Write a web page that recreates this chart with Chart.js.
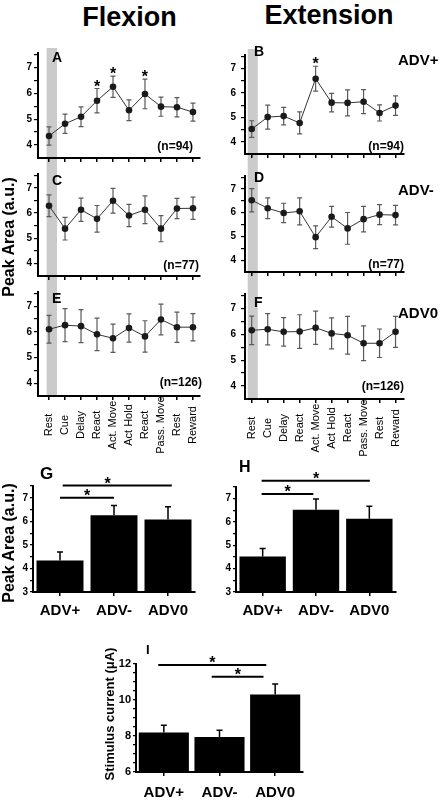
<!DOCTYPE html>
<html>
<head>
<meta charset="utf-8">
<title>Peak area by task phase</title>
<script src="https://cdn.jsdelivr.net/npm/chart.js@4.4.1/dist/chart.umd.min.js"></script>
<style>
  html, body { margin: 0; padding: 0; background: #fff; }
  #fig { position: relative; width: 443px; height: 801px; overflow: hidden; font-family: 'Liberation Sans', Arial, sans-serif; color: #000; }
  #fig canvas { position: absolute; }
  .lbl { position: absolute; z-index: 2; font-weight: bold; line-height: 1; white-space: nowrap; }
  .ctr { transform: translateX(-50%); }
  .rgt { transform: translateX(-100%); }
  .rot { transform: translate(-50%, -50%) rotate(-90deg); }
</style>
</head>
<body>
<div id="fig">
  <div class="lbl ctr" style="left:129.5px; top:4px; font-size:27px;">Flexion</div>
  <div class="lbl ctr" style="left:329px; top:2px; font-size:27px;">Extension</div>

  <div class="lbl" style="left:52px; top:50px; font-size:14px;">A</div>
  <div class="lbl" style="left:254px; top:44px; font-size:14px;">B</div>
  <div class="lbl" style="left:52px; top:173px; font-size:14px;">C</div>
  <div class="lbl" style="left:254px; top:170px; font-size:14px;">D</div>
  <div class="lbl" style="left:52px; top:291px; font-size:14px;">E</div>
  <div class="lbl" style="left:254px; top:295px; font-size:14px;">F</div>
  <div class="lbl" style="left:40px; top:465px; font-size:17px;">G</div>
  <div class="lbl" style="left:239px; top:459px; font-size:16px;">H</div>
  <div class="lbl" style="left:146px; top:643px; font-size:13px;">I</div>

  <div class="lbl rgt" style="left:193px; top:140px; font-size:12px;">(n=94)</div>
  <div class="lbl rgt" style="left:404px; top:140px; font-size:12px;">(n=94)</div>
  <div class="lbl rgt" style="left:199px; top:259px; font-size:12px;">(n=77)</div>
  <div class="lbl rgt" style="left:404px; top:258px; font-size:12px;">(n=77)</div>
  <div class="lbl rgt" style="left:202px; top:376px; font-size:12px;">(n=126)</div>
  <div class="lbl rgt" style="left:404px; top:380px; font-size:12px;">(n=126)</div>

  <div class="lbl" style="left:398px; top:52px; font-size:15px;">ADV+</div>
  <div class="lbl" style="left:398px; top:182px; font-size:15px;">ADV-</div>
  <div class="lbl" style="left:398px; top:305px; font-size:15px;">ADV0</div>

  <div class="lbl rot" style="left:9px; top:237px; font-size:16px;">Peak Area (a.u.)</div>
  <div class="lbl rot" style="left:9px; top:543px; font-size:16px;">Peak Area (a.u.)</div>
  <div class="lbl rot" style="left:109px; top:714px; font-size:13px;">Stimulus current (μA)</div>
</div>

<script>
// task phases (x axis of A-F)
const phaseLabels = ['Rest', 'Cue', 'Delay', 'React', 'Act. Move', 'Act Hold', 'React', 'Pass. Move', 'Rest', 'Reward'];
const yTicksLine = [4, 4.5, 5, 5.5, 6, 6.5, 7, 7.5];

// flexion
const flexAdvPlus = [4.35, 4.82, 5.09, 5.71, 6.25, 5.34, 5.97, 5.48, 5.46, 5.27];
const flexAdvPlusErr = [0.35, 0.37, 0.38, 0.47, 0.41, 0.40, 0.57, 0.37, 0.37, 0.35];
const flexAdvMinus = [6.29, 5.38, 6.13, 5.77, 6.49, 5.90, 6.13, 5.38, 6.18, 6.19];
const flexAdvMinusErr = [0.43, 0.45, 0.46, 0.53, 0.49, 0.44, 0.55, 0.52, 0.40, 0.44];
const flexAdvZero = [6.10, 6.26, 6.22, 5.90, 5.75, 6.15, 5.82, 6.48, 6.18, 6.18];
const flexAdvZeroErr = [0.54, 0.64, 0.64, 0.63, 0.55, 0.55, 0.61, 0.60, 0.59, 0.53];

// extension
const extAdvPlus = [4.52, 5.01, 5.05, 4.77, 6.58, 5.60, 5.59, 5.64, 5.18, 5.48];
const extAdvPlusErr = [0.34, 0.49, 0.36, 0.45, 0.51, 0.38, 0.53, 0.49, 0.33, 0.40];
const extAdvMinus = [6.53, 6.19, 5.99, 6.06, 4.97, 5.83, 5.34, 5.73, 5.92, 5.90];
const extAdvMinusErr = [0.49, 0.44, 0.41, 0.57, 0.48, 0.44, 0.67, 0.54, 0.42, 0.41];
const extAdvZero = [6.15, 6.19, 6.09, 6.10, 6.25, 6.03, 5.96, 5.65, 5.65, 6.09];
const extAdvZeroErr = [0.55, 0.60, 0.55, 0.65, 0.64, 0.60, 0.73, 0.67, 0.55, 0.60];

// phases marked significant (*)
const starsFlexPlus = [3, 4, 6];
const starsExtPlus = [4];

// rest values per group (G, H) and stimulus current (I)
const groups = ['ADV+', 'ADV-', 'ADV0'];
const restFlex = [4.34, 6.26, 6.08];
const restFlexErr = [0.36, 0.41, 0.54];
const restExt = [4.52, 6.53, 6.14];
const restExtErr = [0.34, 0.46, 0.54];
const stimCurrent = [8.20, 7.95, 10.31];
const stimCurrentErr = [0.40, 0.37, 0.58];

// significance brackets: from, to, level, star position
const sigFlex = [[0, 1, 7.0, 0.5], [0.05, 2.07, 7.52, 0.88]];
const sigExt = [[-0.02, 0.95, 7.2, 0.47], [-0.02, 2.01, 7.77, 1.0]];
const sigStim = [[-0.1, 1.84, 11.94, 0.87], [0.86, 1.79, 11.29, 1.33]];

Chart.defaults.font.family = "'Liberation Sans', Arial, sans-serif";
Chart.defaults.color = '#000';

const fig = document.getElementById('fig');

function makeCanvas(box) {
  const c = document.createElement('canvas');
  c.width = box[2];
  c.height = box[3];
  c.style.left = box[0] + 'px';
  c.style.top = box[1] + 'px';
  c.style.width = box[2] + 'px';
  c.style.height = box[3] + 'px';
  fig.appendChild(c);
  return c;
}

function drawStar(ctx, x, y) {
  ctx.save();
  ctx.font = "bold 16px 'Liberation Sans', Arial, sans-serif";
  ctx.fillStyle = '#000';
  ctx.textAlign = 'center';
  ctx.textBaseline = 'alphabetic';
  ctx.fillText('*', x, y + 3);
  ctx.restore();
}

function restBand(range, fromTop, toBottom) {
  return {
    id: 'restBand',
    beforeDraw(chart) {
      const { ctx, chartArea, scales } = chart;
      const x0 = scales.x.getPixelForValue(range[0]);
      const x1 = scales.x.getPixelForValue(range[1]);
      const y0 = fromTop == null ? 0 : chartArea.top - fromTop;
      const y1 = toBottom ? chart.height : chartArea.bottom;
      ctx.save();
      ctx.fillStyle = '#cbcbcb';
      ctx.fillRect(x0, y0, x1 - x0, y1 - y0);
      ctx.restore();
    }
  };
}

const lineErrors = {
  id: 'lineErrors',
  beforeDatasetsDraw(chart) {
    const ds = chart.data.datasets[0];
    const y = chart.scales.y;
    const ctx = chart.ctx;
    ctx.save();
    ctx.strokeStyle = '#5a5a5a';
    ctx.lineWidth = 1.2;
    chart.getDatasetMeta(0).data.forEach((pt, i) => {
      const v = ds.data[i].y, e = ds.err[i];
      const top = y.getPixelForValue(v + e), bot = y.getPixelForValue(v - e);
      ctx.beginPath();
      ctx.moveTo(pt.x, top); ctx.lineTo(pt.x, bot);
      ctx.moveTo(pt.x - 2.5, top); ctx.lineTo(pt.x + 2.5, top);
      ctx.moveTo(pt.x - 2.5, bot); ctx.lineTo(pt.x + 2.5, bot);
      ctx.stroke();
    });
    ctx.restore();
  },
  afterDatasetsDraw(chart) {
    const ds = chart.data.datasets[0];
    const y = chart.scales.y;
    const pts = chart.getDatasetMeta(0).data;
    ds.stars.forEach(i => {
      drawStar(chart.ctx, pts[i].x, y.getPixelForValue(ds.data[i].y + ds.err[i]));
    });
  }
};

function phaseTicks(centerY) {
  return {
    id: 'phaseTicks',
    afterDraw(chart) {
      const ctx = chart.ctx, x = chart.scales.x;
      ctx.save();
      ctx.font = "11px 'Liberation Sans', Arial, sans-serif";
      ctx.fillStyle = '#000';
      ctx.textAlign = 'center';
      ctx.textBaseline = 'middle';
      phaseLabels.forEach((t, i) => {
        ctx.save();
        ctx.translate(x.getPixelForValue(i), centerY);
        ctx.rotate(-Math.PI / 2);
        ctx.fillText(t, 0, 0);
        ctx.restore();
      });
      ctx.restore();
    }
  };
}

function lineChart(box, area, xRange, values, errs, opt) {
  const plugins = [restBand(opt.band, opt.bandTop, opt.bandBottom), lineErrors];
  if (opt.labelY != null) plugins.push(phaseTicks(opt.labelY - box[1]));
  return new Chart(makeCanvas(box), {
    type: 'line',
    data: {
      datasets: [{
        data: values.map((v, i) => ({ x: i, y: v })),
        err: errs,
        stars: opt.stars || [],
        borderColor: '#333',
        borderWidth: 1,
        pointRadius: 3.3,
        pointBackgroundColor: '#1a1a1a',
        pointBorderWidth: 0,
        tension: 0
      }]
    },
    options: {
      responsive: false,
      animation: false,
      devicePixelRatio: 1,
      layout: { padding: { top: area[1] - box[1], right: box[0] + box[2] - area[2], bottom: 0, left: 0 } },
      plugins: { legend: { display: false }, tooltip: { enabled: false } },
      scales: {
        x: {
          type: 'linear',
          min: xRange[0],
          max: xRange[1],
          afterBuildTicks: s => { s.ticks = phaseLabels.map((_, i) => ({ value: i })); },
          afterFit: s => { s.height = box[1] + box[3] - area[3]; },
          ticks: { display: false },
          grid: { drawOnChartArea: false, tickLength: 4, color: '#000', lineWidth: 1.5 },
          border: { color: '#000', width: 2 }
        },
        y: {
          min: 3.5,
          max: 7.55,
          afterBuildTicks: s => { s.ticks = yTicksLine.map(v => ({ value: v })); },
          afterFit: s => { s.width = area[0] - box[0]; },
          ticks: {
            callback: v => Number.isInteger(v) ? v : '',
            font: { size: 10, weight: 'bold' },
            padding: opt.tickPad,
            autoSkip: false
          },
          grid: { drawOnChartArea: false, tickLength: 4, color: '#000', lineWidth: 1.2 },
          border: { color: '#000', width: 2 }
        }
      }
    },
    plugins: plugins
  });
}

function barExtras(sig) {
  return {
    id: 'barExtras',
    afterDatasetsDraw(chart) {
      const ds = chart.data.datasets[0];
      const { ctx, scales } = chart;
      ctx.save();
      ctx.strokeStyle = '#000';
      ctx.lineWidth = 1.5;
      chart.getDatasetMeta(0).data.forEach((bar, i) => {
        const top = scales.y.getPixelForValue(ds.data[i] + ds.err[i]);
        ctx.beginPath();
        ctx.moveTo(bar.x, bar.y); ctx.lineTo(bar.x, top);
        ctx.moveTo(bar.x - 3, top); ctx.lineTo(bar.x + 3, top);
        ctx.stroke();
      });
      ctx.lineWidth = 2;
      sig.forEach(([a, b, level, at]) => {
        const yy = scales.y.getPixelForValue(level);
        ctx.beginPath();
        ctx.moveTo(scales.x.getPixelForValue(a), yy);
        ctx.lineTo(scales.x.getPixelForValue(b), yy);
        ctx.stroke();
        drawStar(ctx, scales.x.getPixelForValue(at), yy);
      });
      ctx.restore();
    }
  };
}

function barChart(box, area, values, errs, opt) {
  return new Chart(makeCanvas(box), {
    type: 'bar',
    data: {
      labels: groups,
      datasets: [{
        data: values,
        err: errs,
        backgroundColor: '#000',
        borderWidth: 0,
        barPercentage: opt.barPct,
        categoryPercentage: 1
      }]
    },
    options: {
      responsive: false,
      animation: false,
      devicePixelRatio: 1,
      layout: { padding: { top: area[1] - box[1], right: box[0] + box[2] - area[2], bottom: 0, left: 0 } },
      plugins: { legend: { display: false }, tooltip: { enabled: false } },
      scales: {
        x: {
          afterFit: s => { s.height = box[1] + box[3] - area[3]; },
          ticks: { font: { size: 15, weight: 'bold' }, padding: opt.labelPad, autoSkip: false, maxRotation: 0 },
          grid: { offset: false, drawOnChartArea: false, tickLength: 4, color: '#000', lineWidth: 1.5 },
          border: { color: '#000', width: 2 }
        },
        y: {
          min: opt.yMin,
          max: opt.yMax,
          afterBuildTicks: s => { s.ticks = opt.yTicks.map(v => ({ value: v })); },
          afterFit: s => { s.width = area[0] - box[0]; },
          ticks: {
            callback: v => opt.yLabels.includes(v) ? v : '',
            font: { size: opt.tickSize, weight: 'bold' },
            padding: 2,
            autoSkip: false
          },
          grid: { drawOnChartArea: false, tickLength: 3, color: '#000', lineWidth: 1.2 },
          border: { color: '#000', width: 2 }
        }
      }
    },
    plugins: [barExtras(opt.sig)]
  });
}

const leftX = [-0.69, 9.44];
const rightX = [-0.42, 9.53];
const bandLeft = [-0.15, 0.5];
const bandRight = [-0.25, 0.38];

lineChart([0, 44, 221, 122], [38, 53, 200, 160], leftX, flexAdvPlus, flexAdvPlusErr,
  { band: bandLeft, bandTop: 5, bandBottom: true, stars: starsFlexPlus, tickPad: 2 });
lineChart([0, 166, 221, 118], [38, 173, 200, 278], leftX, flexAdvMinus, flexAdvMinusErr,
  { band: bandLeft, bandTop: null, bandBottom: true, tickPad: 2 });
lineChart([0, 284, 221, 178], [38, 290, 200, 396], leftX, flexAdvZero, flexAdvZeroErr,
  { band: bandLeft, bandTop: null, bandBottom: false, labelY: 425, tickPad: 2 });

lineChart([221, 44, 222, 121], [245, 53, 404, 159], rightX, extAdvPlus, extAdvPlusErr,
  { band: bandRight, bandTop: 6, bandBottom: true, stars: starsExtPlus, tickPad: 5 });
lineChart([221, 165, 222, 118], [245, 171, 404, 277], rightX, extAdvMinus, extAdvMinusErr,
  { band: bandRight, bandTop: null, bandBottom: true, tickPad: 5 });
lineChart([221, 283, 222, 179], [245, 294, 404, 399], rightX, extAdvZero, extAdvZeroErr,
  { band: bandRight, bandTop: null, bandBottom: false, labelY: 428, tickPad: 5 });

const peakTicks = [3, 3.5, 4, 4.5, 5, 5.5, 6, 6.5, 7, 7.5];
const peakLabels = [3, 4, 5, 6, 7];
const stimTicks = [6, 6.5, 7, 7.5, 8, 8.5, 9, 9.5, 10, 10.5, 11, 11.5, 12];
const stimLabels = [6, 8, 10, 12];

barChart([0, 462, 221, 165], [33, 486, 195, 592], restFlex, restFlexErr,
  { barPct: 0.87, labelPad: 6, yMin: 3, yMax: 7.5, yTicks: peakTicks, yLabels: peakLabels, tickSize: 10, sig: sigFlex });
barChart([221, 462, 222, 165], [236, 487, 396, 592], restExt, restExtErr,
  { barPct: 0.87, labelPad: 6, yMin: 3, yMax: 7.5, yTicks: peakTicks, yLabels: peakLabels, tickSize: 10, sig: sigExt });
barChart([60, 640, 270, 161], [136, 664, 303, 772], stimCurrent, stimCurrentErr,
  { barPct: 0.9, labelPad: 8, yMin: 6, yMax: 12, yTicks: stimTicks, yLabels: stimLabels, tickSize: 11, sig: sigStim });
</script>
</body>
</html>
